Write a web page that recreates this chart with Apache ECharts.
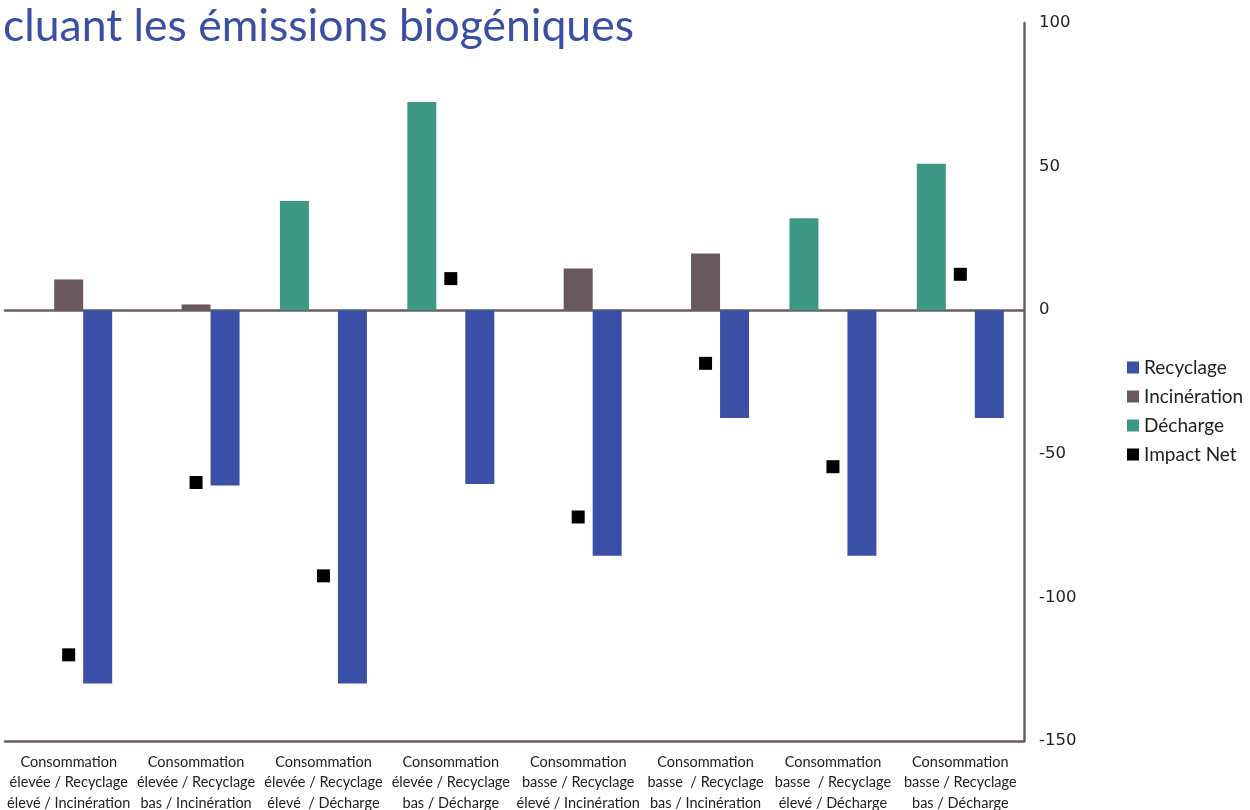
<!DOCTYPE html>
<html>
<head>
<meta charset="utf-8">
<script src="https://cdn.jsdelivr.net/npm/echarts@6/dist/echarts.min.js"></script>
<style>
html,body{margin:0;padding:0;background:#fff;}
#chart{width:1250px;height:810px;}
</style>
</head>
<body>
<div id="chart"></div>
<script>
const titleText = 'cluant les émissions biogéniques';
const categories = [
  'Consommation\nélevée / Recyclage\nélevé / Incinération',
  'Consommation\nélevée / Recyclage\nbas / Incinération',
  'Consommation\nélevée / Recyclage\nélevé  / Décharge',
  'Consommation\nélevée / Recyclage\nbas / Décharge',
  'Consommation\nbasse / Recyclage\nélevé / Incinération',
  'Consommation\nbasse  / Recyclage\nbas / Incinération',
  'Consommation\nbasse  / Recyclage\nélevé / Décharge',
  'Consommation\nbasse / Recyclage\nbas / Décharge'
];
const recyclage   = [-130, -61, -130, -60.5, -85.5, -37.5, -85.5, -37.5];
const incineration = [10.7, 2, null, null, 14.5, 19.7, null, null];
const decharge    = [null, null, 38, 72.5, null, null, 32, 51];
const impactNet   = [-120, -60, -92.5, 11, -72, -18.5, -54.5, 12.5];
const yTicks = { min: -150, max: 100, interval: 50 };

const axisColor = '#6b5c62';
const chart = echarts.init(document.getElementById('chart'));
chart.setOption({
  animation: false,
  backgroundColor: '#ffffff',
  title: {
    text: titleText,
    left: -2, top: -1,
    textStyle: { fontFamily: 'Lato', fontSize: 44.5, fontWeight: 'normal', color: '#3b4ea6' }
  },
  legend: {
    orient: 'vertical',
    left: 1122, top: 353,
    itemWidth: 12, itemHeight: 12, itemGap: 10,
    data: ['Recyclage', 'Incinération', 'Décharge', 'Impact Net'],
    textStyle: { fontFamily: 'Lato', fontSize: 19, color: '#222' },
    icon: 'rect'
  },
  grid: { left: 5, right: 226, top: 23, bottom: 69, containLabel: false, outerBoundsMode: 'none' },
  xAxis: [
    {
      type: 'category', data: categories, position: 'bottom',
      axisLine: { onZero: true, lineStyle: { color: axisColor, width: 2.5 } },
      axisTick: { show: false }, axisLabel: { show: false }
    },
    {
      type: 'category', data: categories, position: 'bottom',
      axisLine: { onZero: false, lineStyle: { color: axisColor, width: 2.5 } },
      axisTick: { show: false },
      axisLabel: {
        interval: 0, margin: 11, fontFamily: 'Lato', fontSize: 14.5,
        lineHeight: 20.5, color: '#222'
      }
    }
  ],
  yAxis: {
    type: 'value', position: 'right',
    min: yTicks.min, max: yTicks.max, interval: yTicks.interval,
    axisLine: { show: true, onZero: false, lineStyle: { color: axisColor, width: 2.5 } },
    axisTick: { show: false },
    splitLine: { show: false },
    axisLabel: { margin: 15, fontFamily: 'DejaVu Sans', fontSize: 16.5, color: '#222' }
  },
  series: [
    { name: 'Décharge', type: 'bar', data: decharge, barWidth: 29, barGap: '0%',
      itemStyle: { color: '#3e9886' } },
    { name: 'Incinération', type: 'bar', data: incineration, barWidth: 29, barGap: '0%',
      itemStyle: { color: '#6a585f' } },
    { name: 'Recyclage', type: 'bar', data: recyclage, barWidth: 29, barGap: '0%',
      itemStyle: { color: '#3a4fa6' } },
    { name: 'Impact Net', type: 'scatter', data: impactNet, symbol: 'rect', symbolSize: 13,
      itemStyle: { color: '#000', opacity: 1 }, z: 5 }
  ]
});
</script>
</body>
</html>
